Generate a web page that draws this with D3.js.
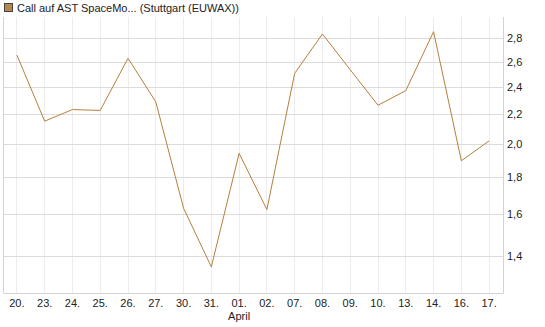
<!DOCTYPE html>
<html>
<head>
<meta charset="utf-8">
<script src="https://cdn.jsdelivr.net/npm/d3@7"></script>
<style>
  body { margin: 0; background: #fff; }
  svg { display: block; font-family: "Liberation Sans", Arial, sans-serif; }
</style>
</head>
<body>
<script>
// data
const dates = ["20.", "23.", "24.", "25.", "26.", "27.", "30.", "31.", "01.", "02.",
               "07.", "08.", "09.", "10.", "13.", "14.", "16.", "17."];
const closes = [2.655, 2.15, 2.231, 2.225, 2.627, 2.287, 1.629, 1.351, 1.94, 1.622,
                2.504, 2.839, 2.533, 2.262, 2.37, 2.86, 1.895, 2.019];
const yTicks = [1.4, 1.6, 1.8, 2.0, 2.2, 2.4, 2.6, 2.8];
const monthLabel = {"01.": "April"};
const title = "Call auf AST SpaceMo... (Stuttgart (EUWAX))";

const width = 545, height = 327;
const plot = {left: 3, right: 503, top: 17, bottom: 293};
const lineColor = "#b5803a";

const svg = d3.select("body").append("svg")
  .attr("width", width).attr("height", height);

const xScale = d3.scalePoint().domain(dates)
  .range([plot.left, plot.right]).padding(0.5);
const yScale = d3.scaleLog().domain([1.243, 2.997])
  .range([plot.bottom, plot.top]);

// grid
svg.append("g").selectAll("line").data(dates).join("line")
  .attr("x1", d => xScale(d)).attr("x2", d => xScale(d))
  .attr("y1", plot.top).attr("y2", plot.bottom)
  .attr("stroke", "#ececec").attr("shape-rendering", "crispEdges");

svg.append("g").selectAll("line").data(yTicks).join("line")
  .attr("x1", plot.left).attr("x2", plot.right)
  .attr("y1", d => Math.round(yScale(d)) + 0.5).attr("y2", d => Math.round(yScale(d)) + 0.5)
  .attr("stroke", "#dcdcdc");

// frame
svg.append("path")
  .attr("d", `M${plot.left + 0.5},${plot.top}V${plot.bottom + 0.5}H${plot.right + 0.5}V${plot.top}`)
  .attr("fill", "none").attr("stroke", "#d2d2d2");

// y axis labels
svg.append("g").selectAll("text").data(yTicks).join("text")
  .attr("x", plot.right + 4).attr("y", d => yScale(d) + 4)
  .attr("font-size", 11).attr("fill", "#222")
  .text(d => d3.format(".1f")(d).replace(".", ","));

// x axis labels
const xAxis = svg.append("g");
xAxis.selectAll("text.day").data(dates).join("text")
  .attr("class", "day")
  .attr("x", d => xScale(d)).attr("y", plot.bottom + 14)
  .attr("text-anchor", "middle").attr("font-size", 11).attr("fill", "#222")
  .text(d => d);
xAxis.selectAll("text.month").data(dates.filter(d => monthLabel[d])).join("text")
  .attr("class", "month")
  .attr("x", d => xScale(d)).attr("y", plot.bottom + 27)
  .attr("text-anchor", "middle").attr("font-size", 11).attr("fill", "#222")
  .text(d => monthLabel[d]);

// price line
const lineGenerator = d3.line()
  .x((d, i) => xScale(dates[i]))
  .y(d => yScale(d));

svg.append("path")
  .attr("fill", "none")
  .attr("stroke", lineColor)
  .attr("stroke-width", 1)
  .attr("d", lineGenerator(closes));

// legend
svg.append("rect")
  .attr("x", 4.5).attr("y", 3.5).attr("width", 8).attr("height", 8)
  .attr("fill", "#b5874a").attr("stroke", "#444");
svg.append("text")
  .attr("x", 17).attr("y", 12)
  .attr("font-size", 11).attr("fill", "#222")
  .text(title);
</script>
</body>
</html>
